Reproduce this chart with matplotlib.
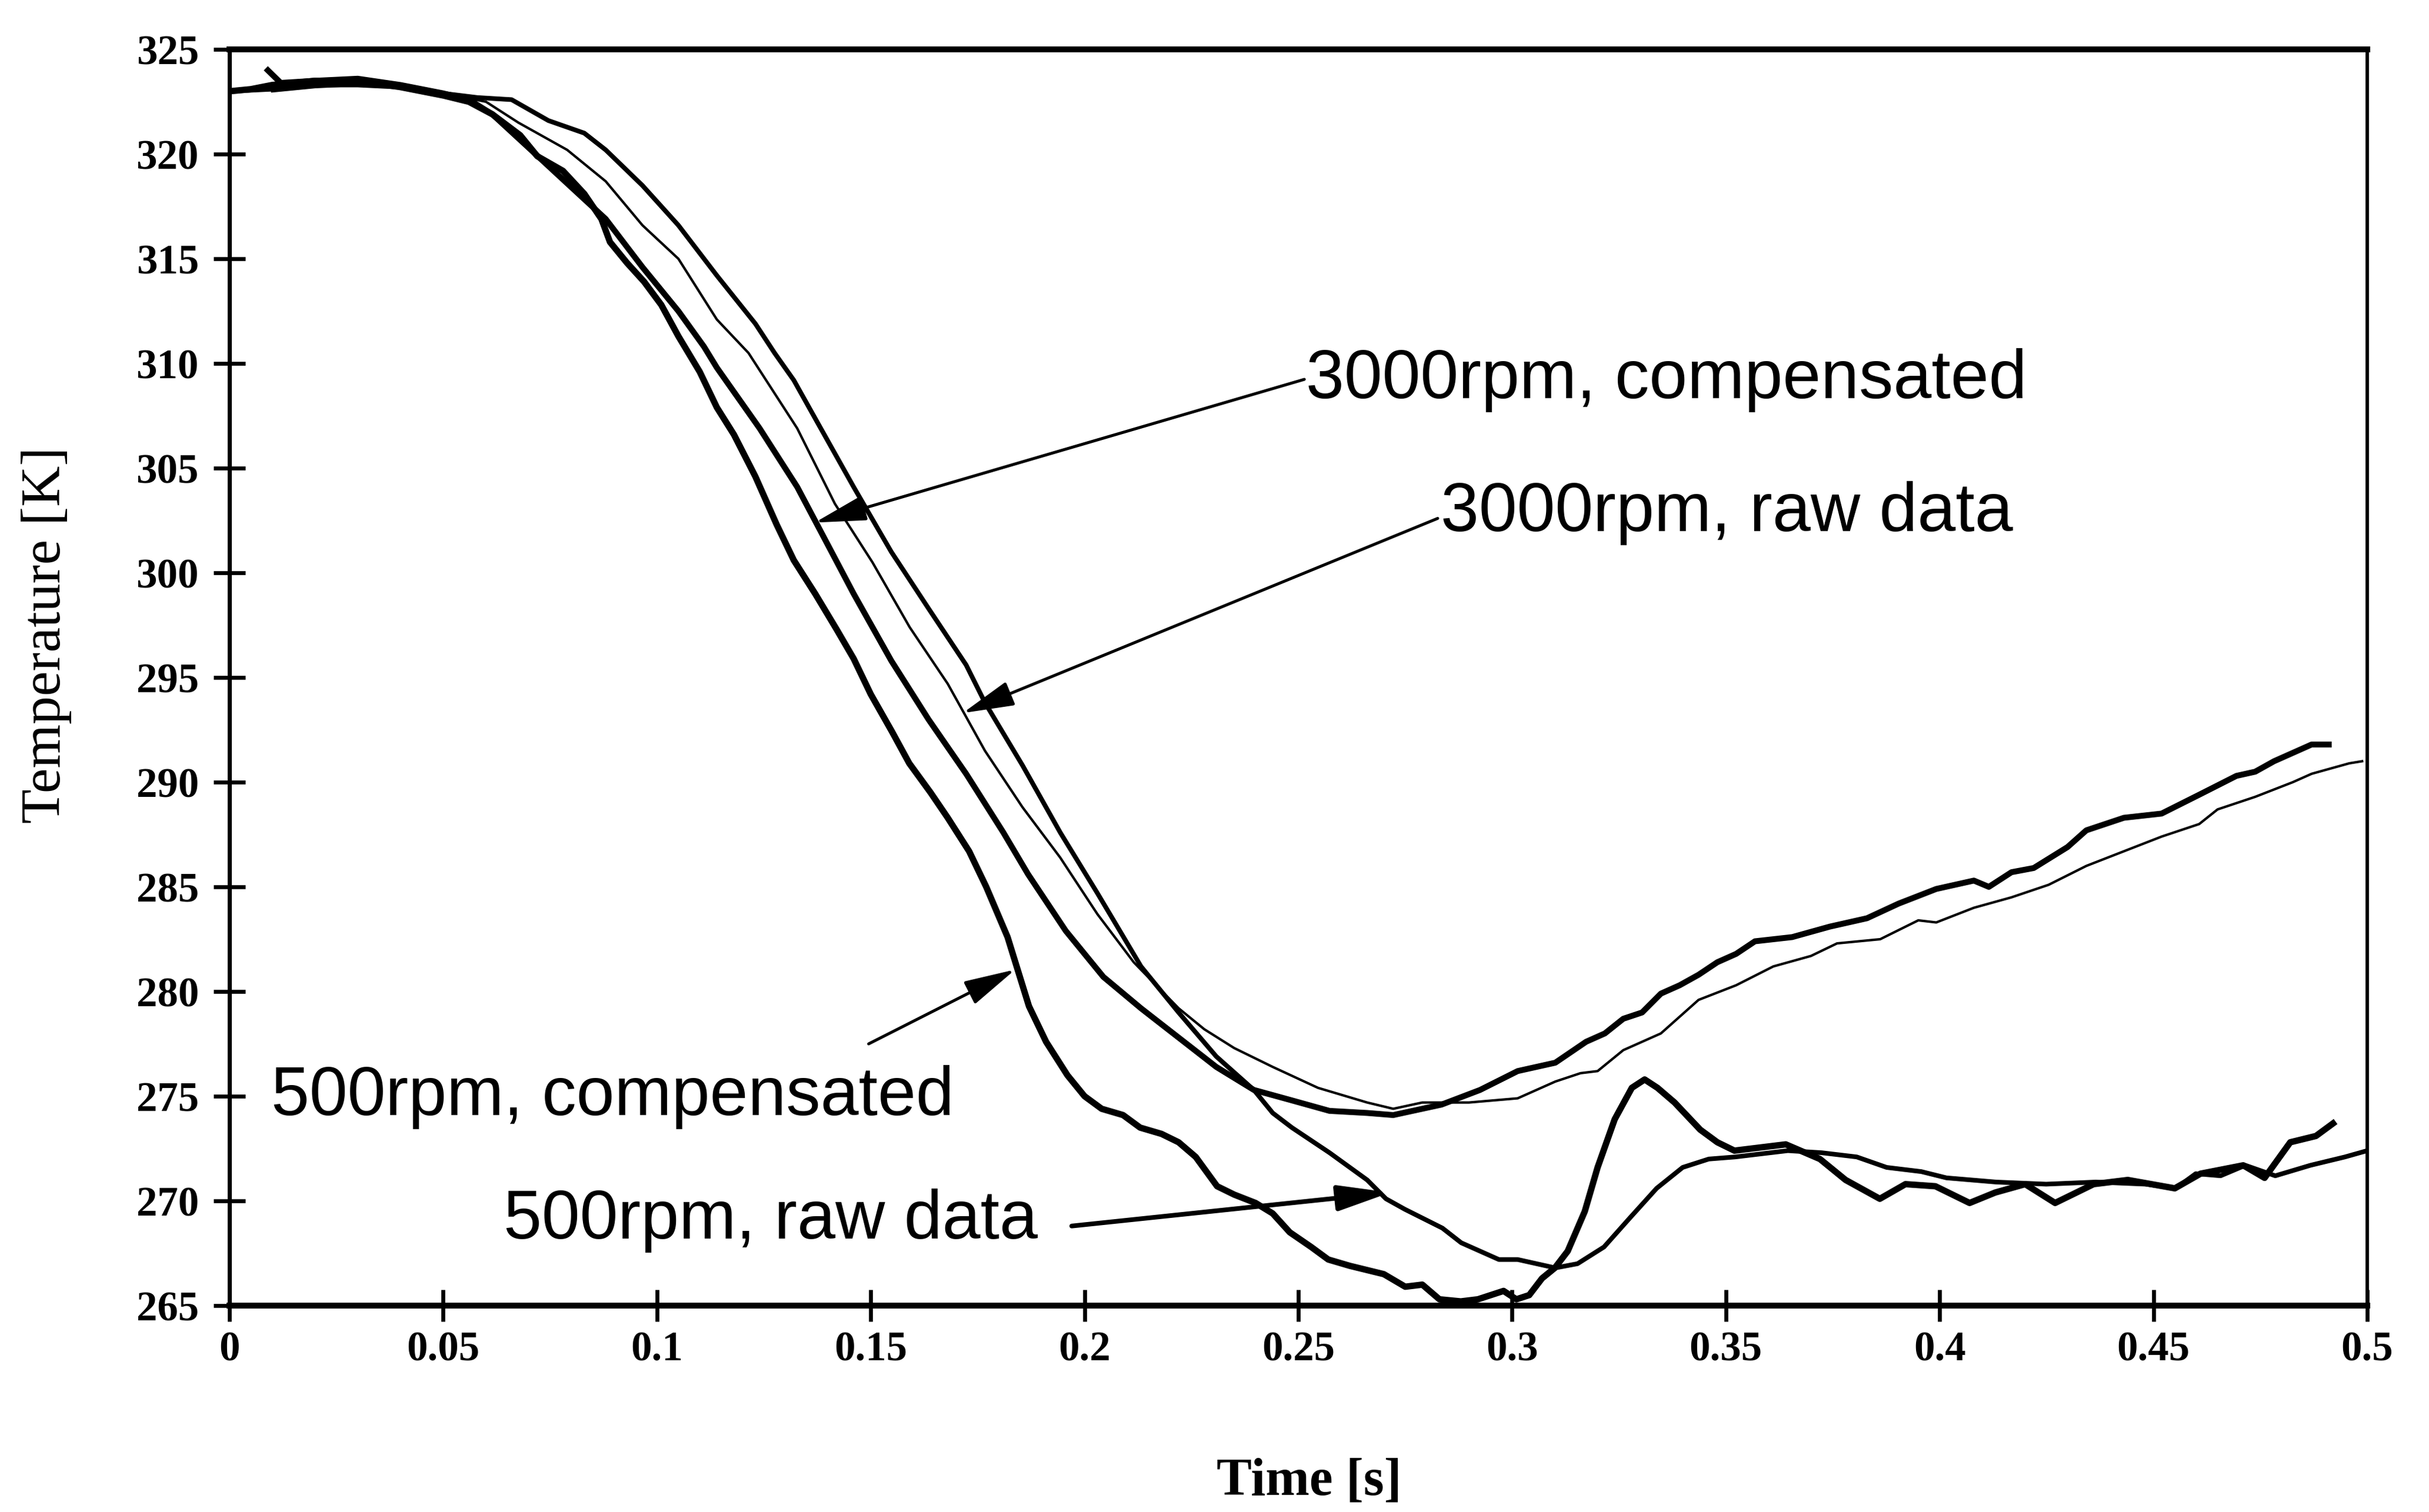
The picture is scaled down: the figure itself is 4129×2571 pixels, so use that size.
import matplotlib
matplotlib.use("Agg")
import matplotlib.pyplot as plt

# ---------------- data ----------------
x_ticks = [0, 0.05, 0.1, 0.15, 0.2, 0.25, 0.3, 0.35, 0.4, 0.45, 0.5]
x_tick_labels = ["0", "0.05", "0.1", "0.15", "0.2", "0.25", "0.3", "0.35", "0.4", "0.45", "0.5"]
y_ticks = [265, 270, 275, 280, 285, 290, 295, 300, 305, 310, 315, 320, 325]
y_tick_labels = [str(v) for v in y_ticks]

# 500 rpm, compensated (thick)
comp500_t = [0.000, 0.005, 0.010, 0.020, 0.030, 0.040, 0.050, 0.056, 0.0615, 0.068,
             0.072, 0.078, 0.083, 0.087, 0.089, 0.093, 0.097, 0.101, 0.105, 0.110,
             0.114, 0.118, 0.123, 0.128, 0.132, 0.137, 0.142, 0.146, 0.150, 0.155,
             0.159, 0.164, 0.168, 0.173, 0.177, 0.182, 0.187, 0.191, 0.196, 0.200,
             0.204, 0.209, 0.213, 0.218, 0.222, 0.226, 0.231, 0.235, 0.240, 0.244,
             0.248, 0.253, 0.257, 0.262, 0.266, 0.270, 0.275, 0.279, 0.283, 0.288,
             0.292, 0.298, 0.301, 0.304, 0.307, 0.310, 0.313, 0.317, 0.320, 0.324,
             0.328, 0.331, 0.334, 0.338, 0.344, 0.348, 0.352, 0.356, 0.364, 0.372,
             0.378, 0.386, 0.392, 0.399, 0.407, 0.413, 0.420, 0.427, 0.436, 0.444,
             0.455, 0.461, 0.471, 0.476, 0.482, 0.488, 0.492]
comp500_T = [323.0, 323.1, 323.3, 323.5, 323.5, 323.2, 322.8, 322.5, 321.9, 320.9,
             319.9, 319.2, 318.1, 316.9, 315.8, 314.8, 313.9, 312.8, 311.3, 309.6,
             307.9, 306.6, 304.6, 302.3, 300.6, 299.0, 297.3, 295.9, 294.2, 292.4,
             290.9, 289.5, 288.3, 286.7, 285.0, 282.6, 279.3, 277.6, 276.0, 275.0,
             274.4, 274.1, 273.5, 273.2, 272.8, 272.1, 270.7, 270.3, 269.9, 269.4,
             268.5, 267.8, 267.2, 266.9, 266.7, 266.5, 265.9, 266.0, 265.3, 265.2,
             265.3, 265.7, 265.3, 265.5, 266.3, 266.8, 267.6, 269.5, 271.6, 273.9,
             275.4, 275.8, 275.4, 274.7, 273.4, 272.8, 272.4, 272.5, 272.7, 272.0,
             271.0, 270.1, 270.8, 270.7, 269.9, 270.4, 270.8, 269.9, 270.8, 271.0,
             270.6, 271.3, 271.7, 271.1, 272.8, 273.1, 273.7]

# 500 rpm, raw data (medium)
raw500_t = [0.000, 0.010, 0.020, 0.030, 0.040, 0.050, 0.058, 0.066, 0.0746, 0.083,
            0.088, 0.0966, 0.105, 0.114, 0.123, 0.1275, 0.132, 0.1372, 0.146, 0.1548,
            0.1635, 0.1723, 0.1767, 0.1855, 0.1943, 0.203, 0.2132, 0.222, 0.2308, 0.2396,
            0.244, 0.2485, 0.2573, 0.2661, 0.2705, 0.2749, 0.2837, 0.2881, 0.2925, 0.2969,
            0.3013, 0.3057, 0.3101, 0.3153, 0.3215, 0.3276, 0.3338, 0.3399, 0.346, 0.3522,
            0.3645, 0.3724, 0.3806, 0.3876, 0.3957, 0.4016, 0.4132, 0.4249, 0.4365, 0.4482,
            0.4552, 0.4599, 0.4657, 0.4715, 0.4785, 0.4867, 0.4948, 0.500]
raw500_T = [323.0, 323.1, 323.3, 323.3, 323.2, 322.9, 322.7, 322.6, 321.6, 321.0,
            320.2, 318.5, 316.6, 314.2, 311.9, 310.5, 309.2, 307.3, 304.1, 301.0,
            298.3, 295.6, 293.8, 290.8, 287.6, 284.7, 281.2, 279.0, 276.9, 275.3,
            274.2, 273.5, 272.3, 271.0, 270.1, 269.6, 268.7, 268.0, 267.6, 267.2,
            267.2, 267.0, 266.8, 267.0, 267.8, 269.2, 270.6, 271.6, 272.0, 272.1,
            272.4, 272.3, 272.1, 271.6, 271.4, 271.1, 270.9, 270.8, 270.9, 270.8,
            270.6, 271.3, 271.2, 271.7, 271.2, 271.7, 272.1, 272.4]

# 3000 rpm, compensated (thick)
comp3000_t = [0.009, 0.012, 0.020, 0.030, 0.040, 0.050, 0.056, 0.0615, 0.070, 0.079,
              0.088, 0.0966, 0.105, 0.111, 0.114, 0.124, 0.1328, 0.1372, 0.146, 0.1548,
              0.1635, 0.1723, 0.181, 0.1868, 0.1956, 0.2044, 0.2132, 0.222, 0.2308, 0.2396,
              0.2485, 0.2573, 0.2661, 0.2722, 0.2835, 0.2925, 0.3013, 0.3101, 0.3173, 0.3217,
              0.326, 0.3304, 0.3348, 0.3392, 0.3436, 0.348, 0.3524, 0.3568, 0.3655, 0.3743,
              0.383, 0.3904, 0.3992, 0.408, 0.4115, 0.4168, 0.422, 0.4299, 0.4343, 0.4431,
              0.4519, 0.4607, 0.4694, 0.4738, 0.4782, 0.487, 0.491]
comp3000_T = [324.0, 323.4, 323.5, 323.6, 323.3, 322.9, 322.6, 321.9, 320.3, 318.6,
              316.9, 314.6, 312.5, 310.8, 309.8, 306.9, 304.1, 302.4, 299.0, 295.8,
              293.0, 290.4, 287.6, 285.6, 282.9, 280.7, 279.2, 277.8, 276.4, 275.3,
              274.8, 274.3, 274.2, 274.1, 274.6, 275.3, 276.2, 276.6, 277.6, 278.0,
              278.7, 279.0, 279.9, 280.3, 280.8, 281.4, 281.8, 282.4, 282.6, 283.1,
              283.5, 284.2, 284.9, 285.3, 285.0, 285.7, 285.9, 286.9, 287.7, 288.3,
              288.5, 289.4, 290.3, 290.5, 291.0, 291.8, 291.8]

# 3000 rpm, raw data (thin)
raw3000_t = [0.010, 0.020, 0.030, 0.040, 0.050, 0.060, 0.0676, 0.079, 0.088, 0.0966,
             0.105, 0.114, 0.1214, 0.1328, 0.1416, 0.1504, 0.1591, 0.168, 0.1767, 0.1855,
             0.1943, 0.203, 0.2115, 0.222, 0.228, 0.235, 0.244, 0.2546, 0.2661, 0.2722,
             0.279, 0.2899, 0.3013, 0.3101, 0.316, 0.320, 0.326, 0.3348, 0.3436, 0.3524,
             0.3611, 0.3699, 0.376, 0.3861, 0.395, 0.3992, 0.408, 0.4168, 0.4255, 0.4343,
             0.4431, 0.4519, 0.4607, 0.465, 0.4738, 0.4826, 0.487, 0.4958, 0.4988]
raw3000_T = [323.0, 323.2, 323.3, 323.3, 322.9, 322.5, 321.5, 320.2, 318.7, 316.6,
             315.0, 312.1, 310.5, 306.9, 303.3, 300.5, 297.4, 294.7, 291.5, 288.8,
             286.4, 283.7, 281.4, 279.2, 278.2, 277.3, 276.4, 275.4, 274.7, 274.4,
             274.7, 274.7, 274.9, 275.7, 276.1, 276.2, 277.2, 278.0, 279.6, 280.3,
             281.2, 281.7, 282.3, 282.5, 283.4, 283.3, 284.0, 284.5, 285.1, 286.0,
             286.7, 287.4, 288.0, 288.7, 289.3, 290.0, 290.4, 290.9, 291.0]

series_labels = ["3000rpm, compensated", "3000rpm, raw data",
                 "500rpm, compensated", "500rpm, raw data"]

for a, b in [(comp500_t, comp500_T), (raw500_t, raw500_T),
             (comp3000_t, comp3000_T), (raw3000_t, raw3000_T)]:
    assert len(a) == len(b), (len(a), len(b))

# ---------------- figure ----------------
W, H, DPI = 4129, 2571, 300
fig = plt.figure(figsize=(W / DPI, H / DPI), dpi=DPI)
fig.patch.set_facecolor("white")
ax = fig.add_axes([390 / W, 1 - 2220 / H, (4024 - 390) / W, (2220 - 84) / H])

ax.plot(raw3000_t, raw3000_T, color="black", lw=1.0, solid_joinstyle="round")
ax.plot(raw500_t, raw500_T, color="black", lw=1.9, solid_joinstyle="round")
ax.plot(comp3000_t, comp3000_T, color="black", lw=2.4, solid_joinstyle="round")
ax.plot(comp500_t, comp500_T, color="black", lw=2.6, solid_joinstyle="round")

ax.set_xlim(0, 0.5)
ax.set_ylim(265, 325)
ax.set_xticks(x_ticks)
ax.set_xticklabels(x_tick_labels, fontfamily="Liberation Serif", fontweight="bold", fontsize=17)
ax.set_yticks(y_ticks)
ax.set_yticklabels(y_tick_labels, fontfamily="Liberation Serif", fontweight="bold", fontsize=17)
ax.tick_params(axis="both", direction="inout", length=13, width=1.6, color="black")
ax.tick_params(axis="y", pad=6.0)
ax.tick_params(axis="x", pad=4.0)

ax.spines["top"].set_linewidth(2.4)
ax.spines["bottom"].set_linewidth(2.4)
ax.spines["left"].set_linewidth(1.7)
ax.spines["right"].set_linewidth(1.4)

fig.text(2225 / W, 1 - 2520 / H, "Time [s]", fontfamily="Liberation Serif",
         fontweight="bold", fontsize=21.5, ha="center", va="center")
fig.text(79 / W, 1 - 1080 / H, "Temperature [K]", fontfamily="Liberation Serif",
         fontsize=23, rotation=90, ha="center", va="center")

# ---------------- annotations ----------------
txt_kw = dict(fontfamily="Liberation Sans", fontsize=28, ha="left", va="baseline")
ax.text(0.2518, 308.35, series_labels[0], **txt_kw)
ax.text(0.2833, 302.0, series_labels[1], **txt_kw)
ax.text(0.0098, 274.1, series_labels[2], **txt_kw)
ax.text(0.0641, 268.2, series_labels[3], **txt_kw)

def arrow(start, tip, lw):
    ax.annotate("", xy=tip, xytext=start,
                arrowprops=dict(arrowstyle="-|>,head_length=0.9,head_width=0.22",
                                mutation_scale=20, lw=lw, color="black",
                                shrinkA=0, shrinkB=0))

arrow((0.2514, 309.24), (0.1369, 302.4), 1.2)
arrow((0.2826, 302.6), (0.1715, 293.3), 1.2)
arrow((0.1495, 277.5), (0.1838, 281.05), 1.2)
arrow((0.197, 268.8), (0.2715, 270.4), 1.9)

fig.savefig("out.png", dpi=DPI, facecolor="white")
